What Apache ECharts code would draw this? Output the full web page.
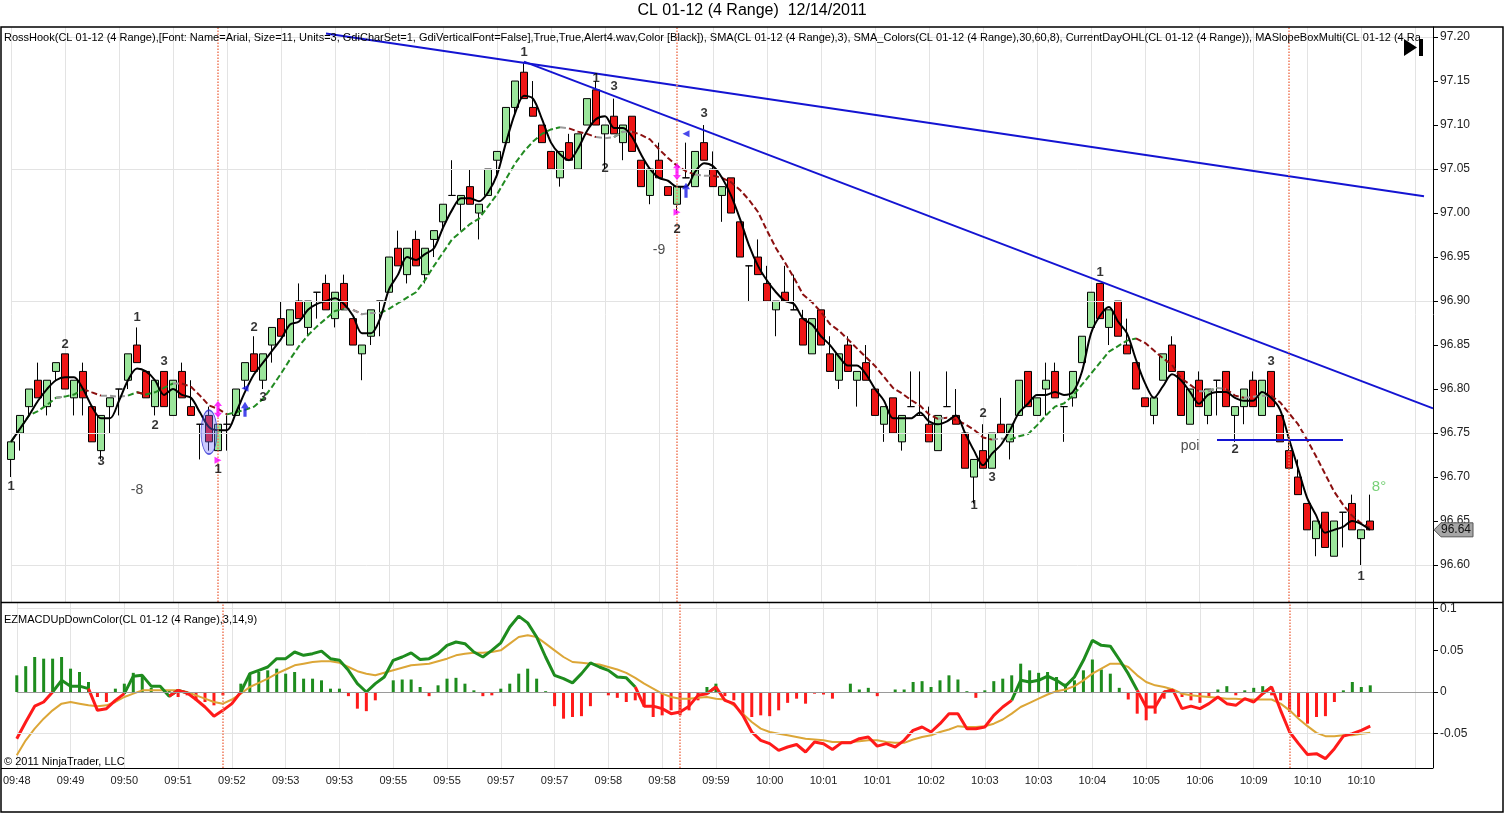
<!DOCTYPE html>
<html lang="en">
<head>
<meta charset="UTF-8">
<title>CL 01-12 (4 Range) 12/14/2011</title>
<script src="https://cdn.jsdelivr.net/npm/echarts@6/dist/echarts.min.js"></script>
<style>
    html, body { margin: 0; padding: 0; background: #fff; }
    #main { width: 1504px; height: 814px; }
</style>
</head>
<body>
<div id="main"></div>
<script>
    // range bars (open, close, low, high)
    var opens = [
        96.72, 96.75, 96.78, 96.81, 96.78, 96.82, 96.84, 96.79, 96.82, 96.78,
        96.73, 96.78, 96.80, 96.81, 96.85, 96.82, 96.78, 96.82, 96.77, 96.82,
        96.78, 96.76, 96.77, 96.73, 96.76, 96.77, 96.81, 96.84, 96.81, 96.85,
        96.88, 96.85, 96.90, 96.87, 96.91, 96.92, 96.88, 96.92, 96.88, 96.84,
        96.86, 96.90, 96.91, 96.96, 96.93, 96.97, 96.93, 96.97, 96.99, 97.02,
        97.01, 97.03, 97.00, 97.02, 97.06, 97.08, 97.12, 97.16, 97.12, 97.10,
        97.07, 97.04, 97.08, 97.05, 97.10, 97.14, 97.09, 97.11, 97.08, 97.11,
        97.06, 97.02, 97.06, 97.03, 97.01, 97.04, 97.03, 97.08, 97.05, 97.02,
        97.04, 96.99, 96.94, 96.95, 96.92, 96.89, 96.91, 96.89, 96.88, 96.84,
        96.89, 96.84, 96.81, 96.85, 96.81, 96.83, 96.80, 96.76, 96.79, 96.74,
        96.78, 96.77, 96.76, 96.73, 96.78, 96.77, 96.75, 96.70, 96.73, 96.71,
        96.76, 96.74, 96.77, 96.82, 96.77, 96.80, 96.82, 96.78, 96.79, 96.83,
        96.87, 96.92, 96.87, 96.90, 96.85, 96.83, 96.79, 96.77, 96.81, 96.85,
        96.82, 96.76, 96.81, 96.77, 96.81, 96.82, 96.77, 96.78, 96.81, 96.77,
        96.82, 96.77, 96.73, 96.70, 96.67, 96.63, 96.66, 96.61, 96.66, 96.67,
        96.63, 96.65
    ];
    var closes = [
        96.74, 96.77, 96.80, 96.79, 96.81, 96.83, 96.80, 96.81, 96.79, 96.74,
        96.77, 96.79, 96.80, 96.84, 96.83, 96.79, 96.81, 96.78, 96.81, 96.79,
        96.77, 96.76, 96.74, 96.76, 96.76, 96.80, 96.83, 96.82, 96.84, 96.87,
        96.86, 96.89, 96.88, 96.90, 96.91, 96.89, 96.91, 96.89, 96.85, 96.85,
        96.89, 96.90, 96.95, 96.94, 96.96, 96.94, 96.96, 96.98, 97.01, 97.02,
        97.02, 97.01, 97.01, 97.05, 97.07, 97.12, 97.15, 97.13, 97.11, 97.08,
        97.05, 97.07, 97.06, 97.09, 97.13, 97.10, 97.10, 97.09, 97.10, 97.07,
        97.03, 97.05, 97.04, 97.02, 97.03, 97.04, 97.07, 97.06, 97.03, 97.03,
        97.00, 96.95, 96.94, 96.93, 96.90, 96.90, 96.90, 96.89, 96.85, 96.88,
        96.85, 96.82, 96.84, 96.82, 96.82, 96.81, 96.77, 96.78, 96.75, 96.77,
        96.78, 96.77, 96.74, 96.77, 96.78, 96.76, 96.71, 96.72, 96.71, 96.75,
        96.75, 96.76, 96.81, 96.78, 96.79, 96.81, 96.79, 96.78, 96.82, 96.86,
        96.91, 96.88, 96.89, 96.86, 96.84, 96.80, 96.78, 96.79, 96.84, 96.82,
        96.77, 96.80, 96.78, 96.80, 96.81, 96.78, 96.78, 96.80, 96.78, 96.81,
        96.78, 96.74, 96.71, 96.68, 96.64, 96.65, 96.62, 96.65, 96.66, 96.64,
        96.64, 96.64
    ];
    var lows = [
        96.70, 96.73, 96.77, 96.79, 96.77, 96.81, 96.80, 96.77, 96.77, 96.74,
        96.72, 96.75, 96.77, 96.80, 96.83, 96.79, 96.77, 96.78, 96.77, 96.79,
        96.77, 96.72, 96.73, 96.73, 96.73, 96.77, 96.80, 96.82, 96.80, 96.83,
        96.86, 96.85, 96.88, 96.86, 96.88, 96.89, 96.87, 96.89, 96.85, 96.81,
        96.85, 96.86, 96.91, 96.94, 96.92, 96.94, 96.92, 96.95, 96.98, 97.02,
        96.98, 97.01, 96.97, 97.02, 97.04, 97.08, 97.11, 97.13, 97.11, 97.08,
        97.05, 97.03, 97.06, 97.05, 97.10, 97.10, 97.05, 97.09, 97.06, 97.07,
        97.03, 97.01, 97.04, 97.02, 97.00, 97.04, 97.03, 97.06, 97.03, 96.99,
        97.00, 96.95, 96.90, 96.93, 96.90, 96.86, 96.90, 96.89, 96.85, 96.84,
        96.85, 96.82, 96.80, 96.82, 96.78, 96.81, 96.77, 96.74, 96.75, 96.73,
        96.78, 96.77, 96.74, 96.73, 96.78, 96.76, 96.71, 96.67, 96.71, 96.71,
        96.75, 96.72, 96.77, 96.78, 96.77, 96.77, 96.79, 96.74, 96.78, 96.83,
        96.87, 96.88, 96.85, 96.86, 96.84, 96.80, 96.78, 96.76, 96.81, 96.82,
        96.77, 96.76, 96.78, 96.76, 96.77, 96.78, 96.74, 96.76, 96.78, 96.77,
        96.78, 96.74, 96.71, 96.68, 96.64, 96.61, 96.62, 96.61, 96.62, 96.64,
        96.60, 96.64
    ];
    var highs = [
        96.74, 96.77, 96.80, 96.83, 96.81, 96.83, 96.84, 96.81, 96.83, 96.78,
        96.77, 96.79, 96.80, 96.84, 96.87, 96.82, 96.81, 96.82, 96.81, 96.83,
        96.81, 96.76, 96.78, 96.76, 96.77, 96.80, 96.83, 96.86, 96.84, 96.87,
        96.90, 96.89, 96.92, 96.90, 96.91, 96.93, 96.91, 96.93, 96.88, 96.85,
        96.89, 96.90, 96.95, 96.98, 96.96, 96.98, 96.96, 96.98, 97.01, 97.06,
        97.02, 97.05, 97.01, 97.05, 97.07, 97.12, 97.15, 97.17, 97.15, 97.10,
        97.07, 97.07, 97.09, 97.09, 97.13, 97.15, 97.10, 97.13, 97.10, 97.11,
        97.06, 97.05, 97.08, 97.03, 97.03, 97.08, 97.07, 97.10, 97.07, 97.03,
        97.04, 96.99, 96.94, 96.97, 96.94, 96.90, 96.94, 96.93, 96.89, 96.88,
        96.89, 96.86, 96.84, 96.86, 96.82, 96.85, 96.80, 96.78, 96.79, 96.77,
        96.82, 96.82, 96.78, 96.77, 96.82, 96.80, 96.75, 96.72, 96.76, 96.75,
        96.79, 96.76, 96.81, 96.82, 96.79, 96.83, 96.83, 96.78, 96.82, 96.86,
        96.91, 96.92, 96.89, 96.90, 96.88, 96.83, 96.79, 96.79, 96.84, 96.86,
        96.82, 96.80, 96.82, 96.80, 96.81, 96.82, 96.78, 96.80, 96.82, 96.81,
        96.82, 96.77, 96.74, 96.72, 96.67, 96.65, 96.66, 96.65, 96.66, 96.68,
        96.64, 96.68
    ];

    // time labels, one every 6 bars
    var tickLabels = ['09:48', '09:49', '09:50', '09:51', '09:52', '09:53', '09:53', '09:55', '09:55',
        '09:57', '09:57', '09:58', '09:58', '09:59', '10:00', '10:01', '10:01', '10:02', '10:03',
        '10:03', '10:04', '10:05', '10:06', '10:09', '10:10', '10:10'];

    // EZMACD panel
    var macdLine = [
        -0.056, -0.036, -0.017, -0.012, 0.000, 0.014, 0.007, 0.007, 0.004, -0.022,
        -0.020, -0.010, -0.002, 0.019, 0.020, 0.007, 0.007, -0.005, 0.002, -0.001,
        -0.009, -0.018, -0.029, -0.022, -0.014, 0.000, 0.022, 0.026, 0.030, 0.040,
        0.040, 0.048, 0.044, 0.046, 0.049, 0.040, 0.038, 0.026, 0.010, 0.000,
        0.010, 0.018, 0.038, 0.042, 0.047, 0.039, 0.040, 0.046, 0.056, 0.060,
        0.058, 0.048, 0.042, 0.050, 0.059, 0.078, 0.091, 0.083, 0.066, 0.042,
        0.020, 0.016, 0.011, 0.022, 0.035, 0.030, 0.026, 0.018, 0.017, 0.006,
        -0.017, -0.017, -0.020, -0.026, -0.024, -0.017, -0.004, -0.002, 0.006, -0.010,
        -0.014, -0.028, -0.048, -0.058, -0.062, -0.070, -0.066, -0.063, -0.072, -0.060,
        -0.062, -0.069, -0.061, -0.061, -0.056, -0.054, -0.065, -0.062, -0.066, -0.058,
        -0.046, -0.042, -0.048, -0.038, -0.026, -0.026, -0.044, -0.044, -0.042, -0.028,
        -0.018, -0.010, 0.014, 0.012, 0.014, 0.019, 0.014, 0.007, 0.018, 0.038,
        0.062, 0.056, 0.055, 0.039, 0.022, 0.002, -0.018, -0.018, 0.000, 0.002,
        -0.020, -0.017, -0.020, -0.014, -0.006, -0.014, -0.016, -0.008, -0.012, -0.002,
        0.006, -0.022, -0.048, -0.062, -0.075, -0.074, -0.080, -0.068, -0.053, -0.050,
        -0.046, -0.041
    ];
    var signalLine = [
        -0.076, -0.058, -0.044, -0.032, -0.022, -0.014, -0.012, -0.014, -0.016, -0.017,
        -0.016, -0.012, -0.006, -0.002, 0.002, 0.002, 0.002, 0.002, 0.002, 0.000,
        -0.004, -0.008, -0.012, -0.014, -0.009, -0.002, 0.006, 0.011, 0.016, 0.022,
        0.027, 0.032, 0.034, 0.036, 0.037, 0.037, 0.035, 0.030, 0.025, 0.022,
        0.020, 0.023, 0.026, 0.029, 0.032, 0.033, 0.034, 0.037, 0.040, 0.044,
        0.046, 0.047, 0.047, 0.048, 0.050, 0.058, 0.066, 0.068, 0.066, 0.058,
        0.050, 0.042, 0.036, 0.035, 0.034, 0.033, 0.030, 0.027, 0.023, 0.017,
        0.010, 0.004, -0.002, -0.006, -0.008, -0.008, -0.007, -0.006, -0.008, -0.009,
        -0.016, -0.026, -0.036, -0.044, -0.048, -0.050, -0.052, -0.054, -0.056, -0.057,
        -0.058, -0.060, -0.060, -0.060, -0.059, -0.058, -0.058, -0.060, -0.061, -0.061,
        -0.057, -0.054, -0.052, -0.048, -0.045, -0.041, -0.042, -0.042, -0.041, -0.038,
        -0.033, -0.026, -0.018, -0.013, -0.008, -0.003, 0.001, 0.003, 0.007, 0.014,
        0.022, 0.028, 0.034, 0.034, 0.030, 0.020, 0.012, 0.008, 0.006, 0.003,
        -0.002, -0.004, -0.005, -0.006, -0.007, -0.008, -0.008, -0.009, -0.009, -0.009,
        -0.009, -0.014, -0.022, -0.032, -0.041, -0.049, -0.053, -0.053, -0.052, -0.052,
        -0.050, -0.049
    ];
    var histValues = [
        0.020, 0.031, 0.042, 0.040, 0.040, 0.042, 0.028, 0.024, 0.012, -0.006,
        -0.012, 0.004, 0.010, 0.023, 0.018, 0.005, 0.000, 0.002, -0.006, -0.004,
        -0.010, -0.012, -0.016, -0.004, -0.001, 0.010, 0.022, 0.024, 0.026, 0.028,
        0.022, 0.024, 0.016, 0.016, 0.014, 0.004, 0.004, -0.005, -0.020, -0.023,
        -0.010, -0.001, 0.014, 0.015, 0.015, 0.006, -0.005, 0.008, 0.016, 0.017,
        0.010, 0.002, -0.005, -0.004, 0.004, 0.010, 0.022, 0.028, 0.016, 0.001,
        -0.017, -0.032, -0.030, -0.029, -0.017, 0.000, -0.004, -0.007, -0.012, -0.010,
        -0.018, -0.030, -0.028, -0.022, -0.028, -0.022, -0.010, 0.006, 0.010, -0.005,
        -0.010, -0.028, -0.030, -0.028, -0.029, -0.022, -0.013, -0.008, -0.014, -0.002,
        -0.003, -0.008, 0.000, 0.010, 0.003, 0.005, -0.005, -0.001, 0.003, 0.003,
        0.012, 0.013, 0.006, 0.014, 0.020, 0.015, 0.001, -0.007, 0.002, 0.013,
        0.016, 0.020, 0.034, 0.026, 0.023, 0.024, 0.018, 0.010, 0.014, 0.026,
        0.039, 0.027, 0.022, 0.005, -0.009, -0.026, -0.034, -0.026, -0.008, 0.002,
        -0.006, -0.010, -0.013, -0.006, 0.003, 0.007, -0.004, 0.002, 0.005, 0.007,
        -0.004, -0.010, -0.024, -0.030, -0.038, -0.030, -0.029, -0.012, 0.002, 0.012,
        0.006, 0.008
    ];

    // drawn objects: [bar1, price1, bar2, price2]
    var trendLines = [[35, 97.204, 157, 97.019], [57, 97.172, 158, 96.778], [134, 96.742, 148, 96.742]];
    var sessionBreaks = [23, 74, 142];
    var priceGrid = [97.20, 97.05, 96.90, 96.75, 96.60];
    var macdGrid = [0.1, -0.05];

    // swing counts and notes: [bar, price, text]
    var swingLabels = [
        [0, 96.689, '1'], [6, 96.851, '2'], [10, 96.718, '3'], [14, 96.881, '1'], [17, 96.831, '3'],
        [16, 96.759, '2'], [23, 96.709, '1'], [27, 96.870, '2'], [28, 96.790, '3'], [57, 97.183, '1'],
        [65, 97.153, '1'], [67, 97.144, '3'], [66, 97.051, '2'], [77, 97.113, '3'], [74, 96.981, '2'],
        [121, 96.932, '1'], [108, 96.772, '2'], [109, 96.699, '3'], [107, 96.668, '1'], [140, 96.831, '3'],
        [136, 96.731, '2'], [150, 96.587, '1']
    ];
    var noteLabels = [[14, 96.685, '-8'], [72, 96.958, '-9'], [131, 96.735, 'poi']];
    var slopeNote = [152, 96.689, '8°'];
    // signal markers: [bar, price, kind]
    var signalMarks = [
        [22, 96.751, 'ellipse'], [23, 96.777, 'magArrow'], [23, 96.719, 'magTri'], [26, 96.777, 'blueArrow'],
        [26, 96.801, 'blueTri'], [74, 97.047, 'magArrow'], [74, 97.001, 'magTri'], [75, 97.026, 'blueArrow'],
        [75, 97.090, 'blueTri']
    ];

    var FONT = '"Liberation Sans", Arial, sans-serif';
    var nSlots = 159;
    var categories = [];
    for (var i = 0; i < nSlots; i++) categories.push(String(i));

    var candles = closes.map(function (c, i) { return [opens[i], c, lows[i], highs[i]]; });

    function sma(src, n) {
        return src.map(function (v, i) {
            var s = 0, k = 0;
            for (var j = Math.max(0, i - n + 1); j <= i; j++) { s += src[j]; k++; }
            return +(s / k).toFixed(4);
        });
    }
    function blanks(n) { var a = []; for (var q = 0; q < n; q++) a.push(null); return a; }

    var fastMa = sma(closes, 3);
    var slowMa = sma(closes, 8);
    var slowUp = blanks(slowMa.length), slowDown = blanks(slowMa.length), slowFlat = blanks(slowMa.length);
    for (i = 0; i < slowMa.length - 1; i++) {
        var d = slowMa[i + 1] - slowMa[i];
        var tgt = d > 0.0015 ? slowUp : (d < -0.0015 ? slowDown : slowFlat);
        tgt[i] = slowMa[i];
        tgt[i + 1] = slowMa[i + 1];
    }

    // MACD line: green above zero, red below
    var macdPos = blanks(macdLine.length), macdNeg = blanks(macdLine.length);
    for (i = 0; i < macdLine.length - 1; i++) {
        var side = (macdLine[i] + macdLine[i + 1]) / 2 >= 0 ? macdPos : macdNeg;
        side[i] = macdLine[i];
        side[i + 1] = macdLine[i + 1];
    }

    var markerStyle = {
        ellipse: {symbol: 'circle', symbolSize: [16, 44], itemStyle: {color: 'rgba(110,110,255,0.45)', borderColor: '#2a2ad0', borderWidth: 1}},
        magArrow: {symbol: 'path://M5,0 L10,6 L7,6 L7,14 L10,14 L5,20 L0,14 L3,14 L3,6 L0,6 Z', symbolSize: [8, 17], itemStyle: {color: '#ff00ff'}},
        magTri: {symbol: 'triangle', symbolSize: 7, symbolRotate: -90, itemStyle: {color: '#ff00ff'}},
        blueArrow: {symbol: 'path://M5,0 L10,7 L7,7 L7,16 L3,16 L3,7 L0,7 Z', symbolSize: [8, 15], itemStyle: {color: '#1a1ae6'}},
        blueTri: {symbol: 'triangle', symbolSize: 7, symbolRotate: 90, itemStyle: {color: '#1a1ae6'}}
    };

    var breakLine = {color: '#f07a5a', width: 1.5, type: 'dotted'};

    var chart = echarts.init(document.getElementById('main'));

    chart.setOption({
        animation: false,
        backgroundColor: '#fff',
        textStyle: {fontFamily: FONT},
        grid: [
            {left: 11, right: 71, top: 27, height: 575},
            {left: 11, right: 71, top: 603, height: 165}
        ],
        xAxis: [
            {
                type: 'category', gridIndex: 0, data: categories, boundaryGap: false,
                axisLine: {show: false}, axisTick: {show: false}, axisLabel: {show: false},
                splitLine: {show: true, interval: 5, lineStyle: {color: '#e3e3e3'}}
            },
            {
                type: 'category', gridIndex: 1, data: categories, boundaryGap: false,
                axisLine: {show: false}, axisTick: {show: false},
                axisLabel: {
                    show: true, interval: 5, margin: 7, fontSize: 11, color: '#222',
                    formatter: function (v, idx) { return (idx % 6 === 0 && tickLabels[idx / 6]) ? tickLabels[idx / 6] : ''; }
                },
                splitLine: {show: true, interval: 5, lineStyle: {color: '#e3e3e3'}}
            }
        ],
        yAxis: [
            {
                type: 'value', gridIndex: 0, position: 'right', min: 96.558, max: 97.2114, splitNumber: 13,
                axisLine: {show: true, lineStyle: {color: '#000'}},
                axisTick: {show: true, length: 5, lineStyle: {color: '#000'}},
                axisLabel: {margin: 7, fontSize: 12, color: '#222', showMinLabel: false, showMaxLabel: false,
                    formatter: function (v) { return v.toFixed(2); }},
                splitLine: {show: false}
            },
            {
                type: 'value', gridIndex: 1, position: 'right', min: -0.0912, max: 0.1068, splitNumber: 4,
                axisLine: {show: true, lineStyle: {color: '#000'}},
                axisTick: {show: true, length: 5, lineStyle: {color: '#000'}},
                axisLabel: {margin: 7, fontSize: 12, color: '#222', showMinLabel: false, showMaxLabel: false},
                splitLine: {show: false}
            }
        ],
        series: [
            {   // horizontal price grid
                type: 'line', xAxisIndex: 0, yAxisIndex: 0, data: [], z: 1, silent: true,
                markLine: {silent: true, symbol: ['none', 'none'], label: {show: false},
                    lineStyle: {color: '#e3e3e3', width: 1, type: 'solid'},
                    data: priceGrid.map(function (p) { return {yAxis: p}; })}
            },
            {   // candles
                name: 'CL 01-12', type: 'candlestick', xAxisIndex: 0, yAxisIndex: 0, data: candles,
                barWidth: 7, clip: false, z: 2,
                itemStyle: {color: '#9be69b', color0: '#ee1515', borderColor: '#000', borderColor0: '#000',
                    borderColorDoji: '#000', borderWidth: 1},
                markLine: {
                    silent: true, symbol: ['none', 'none'], label: {show: false},
                    data: trendLines.map(function (t) {
                        return [{coord: [t[0], t[1]], lineStyle: {color: '#1414d2', width: 2, type: 'solid'}},
                            {coord: [t[2], t[3]]}];
                    }).concat(sessionBreaks.map(function (b) { return {xAxis: b, lineStyle: breakLine}; }))
                }
            },
            {
                type: 'line', xAxisIndex: 0, yAxisIndex: 0, data: slowUp, showSymbol: false, z: 3,
                lineStyle: {color: '#228b22', width: 2, type: [6, 3]}
            },
            {
                type: 'line', xAxisIndex: 0, yAxisIndex: 0, data: slowDown, showSymbol: false, z: 3,
                lineStyle: {color: '#8b1010', width: 2, type: [6, 3]}
            },
            {
                type: 'line', xAxisIndex: 0, yAxisIndex: 0, data: slowFlat, showSymbol: false, z: 3,
                lineStyle: {color: '#9a9a9a', width: 2, type: [6, 3]}
            },
            {   // SMA(3)
                type: 'line', xAxisIndex: 0, yAxisIndex: 0, data: fastMa, showSymbol: false, z: 4,
                smooth: 0.3, lineStyle: {color: '#000', width: 2}
            },
            {   // signal markers
                type: 'scatter', xAxisIndex: 0, yAxisIndex: 0, z: 5, silent: true,
                data: signalMarks.map(function (m) {
                    var st = markerStyle[m[2]];
                    return {value: [m[0], m[1]], symbol: st.symbol, symbolSize: st.symbolSize,
                        symbolRotate: st.symbolRotate || 0, itemStyle: st.itemStyle};
                })
            },
            {   // swing labels and notes
                type: 'scatter', xAxisIndex: 0, yAxisIndex: 0, z: 6, silent: true, symbolSize: 1,
                itemStyle: {color: 'rgba(0,0,0,0)'},
                label: {show: true, position: 'inside', formatter: '{b}', fontWeight: 'bold', fontSize: 13, color: '#000'},
                data: swingLabels.map(function (a) { return {value: [a[0], a[1]], name: a[2]}; })
                    .concat(noteLabels.map(function (a) {
                        return {value: [a[0], a[1]], name: a[2],
                            label: {fontWeight: 'normal', fontSize: 14, color: '#222'}};
                    }))
                    .concat([{value: [slopeNote[0], slopeNote[1]], name: slopeNote[2],
                        label: {fontWeight: 'normal', fontSize: 15, color: '#55c455'}}])
            },
            {   // histogram
                type: 'bar', xAxisIndex: 1, yAxisIndex: 1, data: histValues, barWidth: 3, z: 2,
                itemStyle: {color: function (p) { return p.value >= 0 ? '#1e8c1e' : '#ff1a1a'; }},
                markLine: {
                    silent: true, symbol: ['none', 'none'], label: {show: false},
                    data: macdGrid.map(function (v) { return {yAxis: v, lineStyle: {color: '#e3e3e3', width: 1, type: 'solid'}}; })
                        .concat([{yAxis: 0, lineStyle: {color: '#9a9a9a', width: 1, type: 'solid'}}])
                        .concat(sessionBreaks.map(function (b) { return {xAxis: b, lineStyle: breakLine}; }))
                }
            },
            {   // signal
                type: 'line', xAxisIndex: 1, yAxisIndex: 1, data: signalLine, showSymbol: false, z: 3,
                lineStyle: {color: '#dca637', width: 2}
            },
            {   // MACD above zero
                type: 'line', xAxisIndex: 1, yAxisIndex: 1, data: macdPos, showSymbol: false, z: 4,
                lineStyle: {color: '#1e8c1e', width: 3}
            },
            {   // MACD below zero
                type: 'line', xAxisIndex: 1, yAxisIndex: 1, data: macdNeg, showSymbol: false, z: 4,
                lineStyle: {color: '#ff1a1a', width: 3}
            }
        ],
        graphic: [
            {id: 'title', type: 'text', left: 'center', top: 3,
                style: {text: 'CL 01-12 (4 Range)  12/14/2011', fontSize: 16, fontFamily: FONT, fill: '#000'}},
            {id: 'frame', type: 'rect', shape: {x: 1, y: 27, width: 1502, height: 785},
                style: {fill: 'none', stroke: '#000', lineWidth: 1.5}, z: 10},
            {id: 'sep1', type: 'line', shape: {x1: 1, y1: 602.5, x2: 1503, y2: 602.5},
                style: {stroke: '#000', lineWidth: 1.5}, z: 10},
            {id: 'sep2', type: 'line', shape: {x1: 1, y1: 768.5, x2: 1433, y2: 768.5},
                style: {stroke: '#000', lineWidth: 1}, z: 10},
            {id: 'ind', type: 'text', x: 4, y: 32, z: 10,
                style: {text: 'RossHook(CL 01-12 (4 Range),[Font: Name=Arial, Size=11, Units=3, GdiCharSet=1, GdiVerticalFont=False],True,True,Alert4.wav,Color [Black]), SMA(CL 01-12 (4 Range),3), SMA_Colors(CL 01-12 (4 Range),30,60,8), CurrentDayOHL(CL 01-12 (4 Range)), MASlopeBoxMulti(CL 01-12 (4 Range),30,60,8)',
                    fontSize: 11, fontFamily: FONT, fill: '#000', width: 1422, overflow: 'truncate', ellipsis: ''}},
            {id: 'macdName', type: 'text', x: 4, y: 614, z: 10,
                style: {text: 'EZMACDUpDownColor(CL 01-12 (4 Range),3,14,9)', fontSize: 11, fontFamily: FONT, fill: '#000'}},
            {id: 'copy', type: 'text', x: 4, y: 756, z: 10,
                style: {text: '\u00a9 2011 NinjaTrader, LLC', fontSize: 11, fontFamily: FONT, fill: '#000'}},
            {id: 'playTri', type: 'polygon', shape: {points: [[1404, 39], [1404, 56], [1417, 47.5]]},
                style: {fill: '#000'}, z: 10},
            {id: 'playBar', type: 'rect', shape: {x: 1419, y: 39, width: 4, height: 17},
                style: {fill: '#000'}, z: 10}
        ]
    });

    // last price tag on the price axis
    var lastClose = closes[closes.length - 1];
    var ly = chart.convertToPixel({yAxisIndex: 0}, lastClose);
    chart.setOption({
        graphic: [
            {id: 'lastTag', type: 'polygon', z: 11,
                shape: {points: [[1434, ly], [1441, ly - 7], [1473, ly - 7], [1473, ly + 7], [1441, ly + 7]]},
                style: {fill: '#a6a6a6', stroke: '#555', lineWidth: 1}},
            {id: 'lastText', type: 'text', x: 1441, y: ly - 6, z: 12,
                style: {text: lastClose.toFixed(2), fontSize: 12, fontFamily: FONT, fill: '#111'}}
        ]
    });
</script>
</body>
</html>
